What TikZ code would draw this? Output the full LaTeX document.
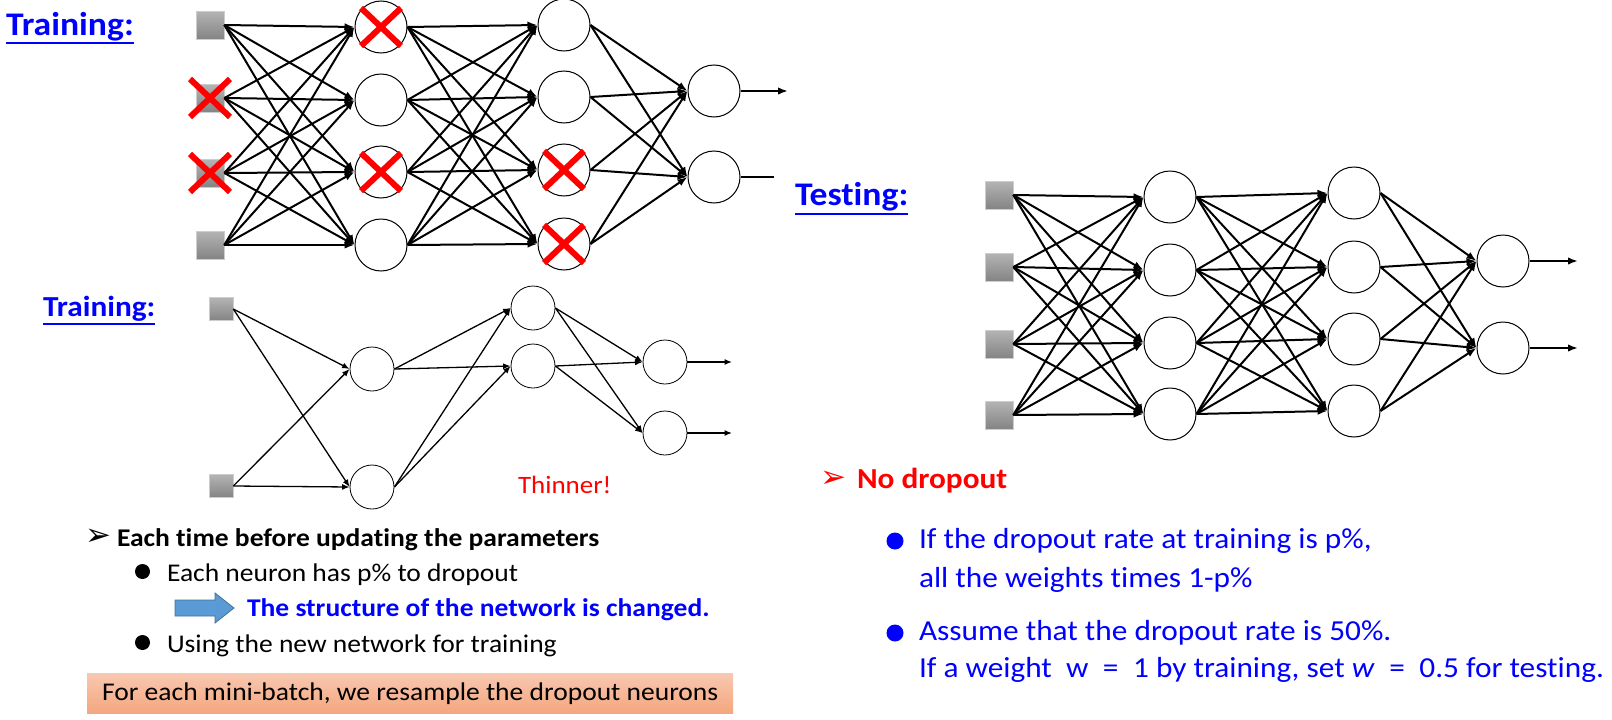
\documentclass[tikz,border=0pt]{standalone}
\usepackage{fontspec}
\setmainfont[FakeStretch=1.08,Ligatures={NoCommon}]{Carlito}
\newfontfamily\symfont{DejaVu Sans}
\usetikzlibrary{arrows.meta}
\definecolor{pblue}{RGB}{0,0,255}
\definecolor{pred}{RGB}{255,0,0}
\definecolor{arrblue}{RGB}{91,155,213}
\definecolor{arrblueline}{RGB}{65,113,156}
\definecolor{boxtop}{RGB}{248,200,176}
\definecolor{boxbot}{RGB}{244,166,126}
\definecolor{sqtop}{RGB}{180,180,180}
\definecolor{sqbot}{RGB}{132,132,132}
\definecolor{sqline}{RGB}{205,205,205}
\newcommand\fsz[1]{\fontsize{#1}{#1}\selectfont}
\newcommand\myX[1]{%
  \draw[redx] ([shift={(-20,-19)}]#1.center) -- ([shift={(20,19)}]#1.center);
  \draw[redx] ([shift={(20,-19)}]#1.center) -- ([shift={(-20,19)}]#1.center);}
\tikzset{
  inp/.style={rectangle, minimum width=28pt, minimum height=28pt, inner sep=0pt,
    top color=sqtop, bottom color=sqbot, draw=sqline, line width=0.6pt},
  inpS/.style={inp, minimum width=24pt, minimum height=23pt},
  neuron/.style={circle, draw=black, line width=1pt, fill=white, minimum size=52pt, inner sep=0pt},
  neuronS/.style={neuron, line width=0.8pt, minimum size=44pt},
  conn/.style={line width=2pt, -{Latex[length=10pt,width=7.5pt]}},
  connS/.style={line width=1.3pt, -{Latex[length=7.5pt,width=6pt]}},
  plain/.style={line width=2pt},
  redx/.style={draw=pred, line width=6pt},
  txt/.style={anchor=base west, inner sep=0pt, outer sep=0pt},
  head/.style={txt, text=pblue, font=\fsz{33}\bfseries},
  uline/.style={draw=pblue, line width=2.2pt},
  bodyL/.style={txt, font=\fsz{25.5}},
  bodyR/.style={txt, text=pblue, font=\fsz{29}},
  dot/.style={circle, inner sep=0pt, minimum size=15pt, fill=black},
  dotR/.style={circle, inner sep=0pt, minimum size=17pt, fill=pblue},
  sym/.style={anchor=center, inner sep=0pt, outer sep=0pt, font=\symfont\fsz{31}},
}
\begin{document}
\begin{tikzpicture}[x=1pt,y=-1pt]
\useasboundingbox (0,0) rectangle (1612,720);

% ---------------- top training network ----------------
\node[head] (trA) at (6,35) {Training:};
\draw[uline] ([yshift=-8pt]trA.base west) -- ([yshift=-8pt]trA.base east);

\node[inp] (tI1) at (210,25) {};
\node[inp] (tI2) at (210,98) {};
\node[inp] (tI3) at (210,173) {};
\node[inp] (tI4) at (210,245) {};
\node[neuron] (tA1) at (381,27) {};
\node[neuron] (tA2) at (381,100) {};
\node[neuron] (tA3) at (381,172) {};
\node[neuron] (tA4) at (381,245) {};
\node[neuron] (tB1) at (564,25) {};
\node[neuron] (tB2) at (564,97) {};
\node[neuron] (tB3) at (564,170) {};
\node[neuron] (tB4) at (564,244) {};
\node[neuron] (tO1) at (714,91) {};
\node[neuron] (tO2) at (714,177) {};
\coordinate (tE1) at (788,91);
\coordinate (tE2) at (774,177);

\foreach \i in {1,...,4}{\foreach \j in {1,...,4}{
  \draw[conn] (tI\i.east) -- (tA\j.west);
  \draw[conn] (tA\i.east) -- (tB\j.west);}
  \foreach \j in {1,2}{\draw[conn] (tB\i.east) -- (tO\j.west);}}
\draw[conn] (tO1.east) -- (tE1);
\draw[plain] (tO2.east) -- (tE2);

\myX{tI2}
\myX{tI3}
\myX{tA1}
\myX{tA3}
\myX{tB3}
\myX{tB4}

% ---------------- bottom (thinned) network ----------------
\node[txt, text=pblue, font=\fsz{29}\bfseries] (trB) at (43,316) {Training:};
\draw[uline] ([yshift=-8pt]trB.base west) -- ([yshift=-8pt]trB.base east);

\node[inpS] (bI1) at (221,309) {};
\node[inpS] (bI2) at (221,486) {};
\node[neuronS] (bA1) at (372,369) {};
\node[neuronS] (bA2) at (372,487) {};
\node[neuronS] (bB1) at (533,308) {};
\node[neuronS] (bB2) at (533,366) {};
\node[neuronS] (bO1) at (665,362) {};
\node[neuronS] (bO2) at (665,433) {};
\coordinate (bE1) at (732,362);
\coordinate (bE2) at (732,433);
\foreach \i in {1,2}{\foreach \j in {1,2}{
  \draw[connS] (bI\i.east) -- (bA\j.west);
  \draw[connS] (bA\i.east) -- (bB\j.west);
  \draw[connS] (bB\i.east) -- (bO\j.west);}}
\draw[connS] (bO1.east) -- (bE1);
\draw[connS] (bO2.east) -- (bE2);

\node[txt, text=pred, font=\fsz{25}] (thin) at (518,493) {Thinner!};

% ---------------- bottom-left text ----------------
\node[sym] (ar1) at (98,537) {➢};
\node[bodyL, font=\fsz{25.5}\bfseries] (l1) at (117,546) {Each time before updating the parameters};
\node[dot] (d1) at (142.5,571.5) {};
\node[bodyL] (l2) at (167,581) {Each neuron has p\% to dropout};
\draw[fill=arrblue, draw=arrblueline, line width=0.8pt]
  (175,600) -- (215,600) -- (215,593) -- (234,608) -- (215,623) -- (215,616) -- (175,616) -- cycle;
\node[bodyL, text=pblue, font=\fsz{25.5}\bfseries] (l3) at (247,616) {The structure of the network is changed.};
\node[dot] (d2) at (142.5,642.5) {};
\node[bodyL] (l4) at (167,652) {Using the new network for training};
\node[top color=boxtop, bottom color=boxbot, minimum width=646pt, minimum height=40pt,
  inner sep=0pt, anchor=north west, font=\fsz{25.5}] (box) at (87,673)
  {For each mini-batch, we resample the dropout neurons};

% ---------------- testing network ----------------
\node[head] (te) at (795,205) {Testing:};
\draw[uline] ([yshift=-9pt]te.base west) -- ([yshift=-9pt]te.base east);

\node[inp] (rI1) at (999,195) {};
\node[inp] (rI2) at (999,267) {};
\node[inp] (rI3) at (999,344) {};
\node[inp] (rI4) at (999,415) {};
\node[neuron] (rA1) at (1170,197) {};
\node[neuron] (rA2) at (1170,270) {};
\node[neuron] (rA3) at (1170,343) {};
\node[neuron] (rA4) at (1170,414) {};
\node[neuron] (rB1) at (1354,193) {};
\node[neuron] (rB2) at (1354,267) {};
\node[neuron] (rB3) at (1354,339) {};
\node[neuron] (rB4) at (1354,411) {};
\node[neuron] (rO1) at (1503,261) {};
\node[neuron] (rO2) at (1503,348) {};
\coordinate (rE1) at (1578,261);
\coordinate (rE2) at (1578,348);
\foreach \i in {1,...,4}{\foreach \j in {1,...,4}{
  \draw[conn] (rI\i.east) -- (rA\j.west);
  \draw[conn] (rA\i.east) -- (rB\j.west);}
  \foreach \j in {1,2}{\draw[conn] (rB\i.east) -- (rO\j.west);}}
\draw[conn] (rO1.east) -- (rE1);
\draw[conn] (rO2.east) -- (rE2);

% ---------------- right text ----------------
\node[sym, text=pred] (ar2) at (833,479) {➢};
\node[txt, text=pred, font=\fsz{29}\bfseries] (nd) at (857,488) {No dropout};
\node[dotR] (d3) at (895,541) {};
\node[bodyR] (r1) at (919,548) {If the dropout rate at training is p\%,};
\node[bodyR] (r2) at (919,587) {all the weights times 1-p\%};
\node[dotR] (d4) at (895,633) {};
\node[bodyR] (r3) at (919,640) {Assume that the dropout rate is 50\%.};
\node[bodyR] (r4) at (919,677) {If a weight\ \ w\enspace=\enspace1 by training, set \textit{w}\enspace=\enspace0.5 for testing.};
\end{tikzpicture}
\end{document}
